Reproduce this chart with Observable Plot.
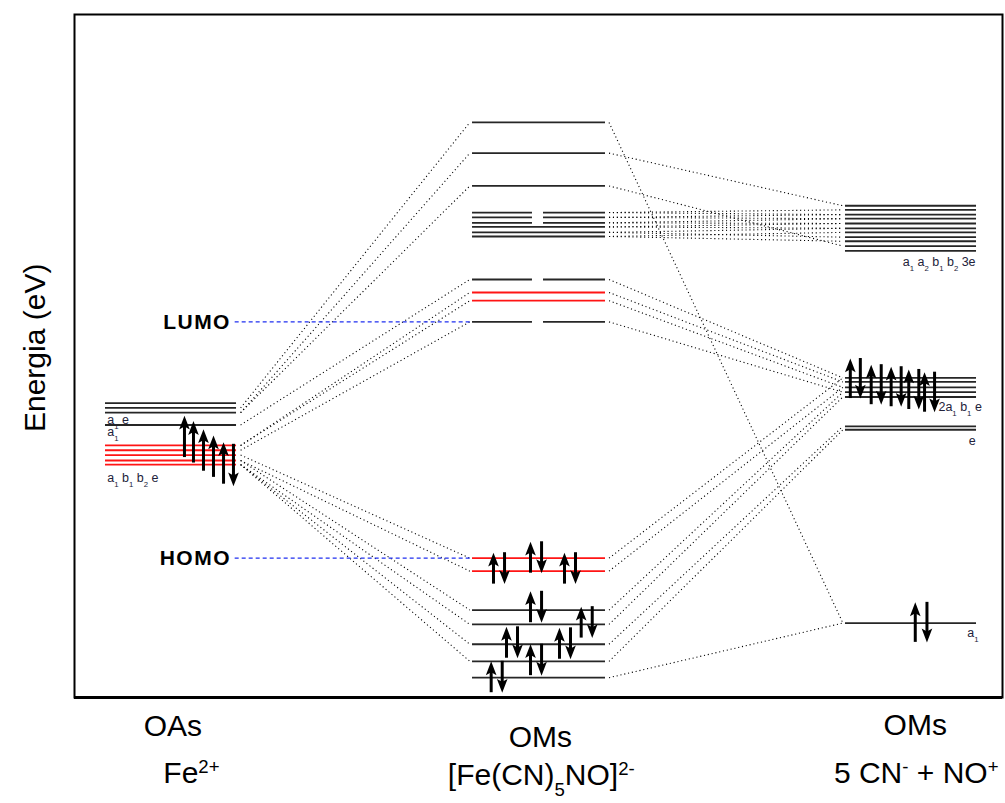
<!DOCTYPE html>
<html><head><meta charset="utf-8">
<script src="https://cdn.jsdelivr.net/npm/d3@7"></script>
<script src="https://cdn.jsdelivr.net/npm/@observablehq/plot@0.6"></script>
<style>body{margin:0;background:#fff;} svg{display:block;}</style>
</head><body><div id="chart"></div>
<script>
// ---------------- data (energies in arbitrary units, 0..100) ----------------
const feLevels   = [43.1, 42.4, 41.7, 39.9, 36.9, 36.2, 35.5, 34.7, 34.1];
const feMetalD   = [false, false, false, false, true, true, true, true, true];
const complexLevels     = [84.2, 79.7, 74.9, 71.0, 70.3, 69.5, 68.9, 68.1, 67.5, 61.2, 59.3, 58.1, 55.0, 20.4, 18.5, 12.8, 10.7, 7.8, 5.3, 2.9];
const complexDegenerate = [0,0,0,1,1,1,0,0,0,1,0,0,1,0,0,0,0,0,0,0];
const complexMetalD     = [0,0,0,0,0,0,0,0,0,0,1,1,0,1,1,0,0,0,0,0];
const ligandLevels = [72.0, 71.4, 70.7, 70.1, 69.4, 68.7, 68.1, 67.4, 66.8, 66.1, 65.4, 46.8, 46.2, 45.4, 44.7, 44.0, 39.7, 39.2, 10.9];
const lumo = 55.0, homo = 20.4;

// correlation lines [from energy, to energy]
const feToComplex = [[42.4,84.2],[41.7,79.7],[41.7,74.9],[39.9,61.2],[36.9,59.3],[36.9,58.1],[36.2,55.0],[35.5,20.4],[34.7,18.5],[34.7,12.8],[34.1,10.7],[34.1,7.8],[34.1,5.3]];
const complexToLigand = [[84.2,10.9],[79.7,72.0],[74.9,66.1],[71.0,71.4],[70.3,70.7],[69.5,70.1],[68.9,69.4],[68.1,68.7],[67.5,68.1],[71.0,70.7],[70.3,70.1],[69.5,69.4],[68.9,68.7],[68.1,67.4],[67.5,66.8],[61.2,46.8],[59.3,46.2],[58.1,45.4],[55.0,44.7],[20.4,46.8],[18.5,45.4],[12.8,44.7],[10.7,44.0],[7.8,39.7],[5.3,39.2],[2.9,10.9]];

// electrons (Fe2+ d6 high spin: individual spins; others: pairs)
const feSpinSlot = [11.85, 12.82, 13.9, 14.98, 16.06, 17.13];
const feSpinE    = [38.2, 37.4, 36.2, 35.3, 34.3, 34.0];
const feSpinDir  = [1, 1, 1, 1, 1, -1];
const complexPairSlot = [45.15, 49.14, 52.8, 49.14, 54.6, 46.55, 52.26, 49.14, 44.9];
const complexPairE    = [18.9, 20.5, 18.9, 13.25, 11.0, 8.05, 7.9, 5.5, 3.0];
const ligandPairSlot = [83.6, 85.85, 88.0, 89.9, 91.6, 90.6];
const ligandPairE    = [46.7, 45.8, 45.5, 45.1, 44.7, 11.0];

// labels
const feLabels = ["a_{1} e", "a_{1}", "a_{1} b_{1} b_{2} e"];
const feLabelE = [40.7, 38.8, 32.2];
const ligandLabelsRight = ["a_{1} a_{2} b_{1} b_{2} 3e", "e"];
const ligandLabelsRightE = [63.7, 37.6];
const ligandLabelsLeft = ["2a_{1} b_{1} e", "a_{1}"];
const ligandLabelsLeftE = [42.6, 9.4];
const columnTitles = ["OAs", "OMs", "OMs"];
const columnSpecies = ["Fe^{2+}", "[Fe(CN)_{5}NO]^{2-}", "5 CN^{-} + NO^{+}"];
const yTitle = "Energia (eV)";

// ---------------- layout ----------------
const X = {fe: [3.34, 17.46], cx: [42.89, 57.22], gap: [49.35, 50.54], lig: [83.08, 97.2]};
const linkX = {feR: 17.9, cxL: 42.6, cxR: 57.6, ligL: 82.8};
const ligandLabelsLeftX = [93.1, 96.2];
const titlePos = [{x: 10.6, y: -4.3}, {x: 50.2, y: -5.9}, {x: 90.6, y: -4.1}];
const speciesPos = [{x: 12.6, y: -11.1}, {x: 50.3, y: -11.4}, {x: 90.7, y: -11.1}];

const segs = [];
feLevels.forEach((e, i) => segs.push({x1: X.fe[0], x2: X.fe[1], y: e, red: feMetalD[i]}));
complexLevels.forEach((e, i) => {
  if (complexDegenerate[i]) {
    segs.push({x1: X.cx[0], x2: X.gap[0], y: e, red: !!complexMetalD[i]});
    segs.push({x1: X.gap[1], x2: X.cx[1], y: e, red: !!complexMetalD[i]});
  } else segs.push({x1: X.cx[0], x2: X.cx[1], y: e, red: !!complexMetalD[i]});
});
ligandLevels.forEach(e => segs.push({x1: X.lig[0], x2: X.lig[1], y: e, red: false}));

const links = [
  ...feToComplex.map(([a, b]) => ({x1: linkX.feR, y1: a, x2: linkX.cxL, y2: b})),
  ...complexToLigand.map(([a, b]) => ({x1: linkX.cxR, y1: a, x2: linkX.ligL, y2: b}))
];

const spins = [];
function addSpin(x, e, dir, half) {
  spins.push({x, tail: e - dir * half, tip: e + dir * half, shaftEnd: e + dir * (half - 1.0), rot: dir > 0 ? 0 : 180});
}
feSpinSlot.forEach((x, i) => addSpin(x, feSpinE[i], feSpinDir[i], 3.07));
complexPairSlot.forEach((x, i) => { addSpin(x, complexPairE[i], 1, 2.3); addSpin(x + 1.19, complexPairE[i], -1, 2.3); });
ligandPairSlot.forEach((x, i) => { const h = 2.93; addSpin(x, ligandPairE[i], 1, h); addSpin(x + (i === 5 ? 1.26 : 1.08), ligandPairE[i], -1, h); });

const arrowHead = {draw(ctx, size) {
  const s = Math.sqrt(size);
  ctx.moveTo(0, 0); ctx.lineTo(s * 0.5, s * 1.3); ctx.lineTo(0, s * 1.02); ctx.lineTo(-s * 0.5, s * 1.3); ctx.closePath();
}};

const labelColor = "#22223a";
const plot = Plot.plot({
  width: 1005, height: 803,
  marginTop: 14, marginLeft: 74, marginRight: 3, marginBottom: 106,
  x: {domain: [0, 100], axis: null},
  y: {domain: [0, 100], axis: null},
  style: {fontFamily: "'Liberation Sans', Arial, sans-serif", background: "white"},
  marks: [
    Plot.frame({stroke: "black", strokeWidth: 2}),
    Plot.ruleY([0], {stroke: "black", strokeWidth: 3}),
    Plot.link(links, {x1: "x1", y1: "y1", x2: "x2", y2: "y2", stroke: "black", strokeWidth: 1.1, strokeDasharray: "1.1,2.8"}),
    Plot.link([lumo, homo], {x1: X.fe[1] - 0.2, x2: X.cx[0], y1: d => d, y2: d => d, stroke: "#1f2ff0", strokeWidth: 1.1, strokeDasharray: "4,3"}),
    Plot.ruleY(segs, {y: "y", x1: "x1", x2: "x2", stroke: d => d.red ? "#ff1414" : "#262626", strokeWidth: 1.8}),
    Plot.ruleX(spins, {x: "x", y1: "tail", y2: "shaftEnd", stroke: "black", strokeWidth: 3}),
    Plot.dot(spins, {x: "x", y: "tip", r: 6, symbol: arrowHead, rotate: "rot", fill: "black", stroke: null}),
    Plot.text(feLabels, {x: X.fe[0] + 0.2, y: (d, i) => feLabelE[i], text: d => d, textAnchor: "start", fontSize: 12.5, fill: labelColor}),
    Plot.text(ligandLabelsRight, {x: 97.1, y: (d, i) => ligandLabelsRightE[i], text: d => d, textAnchor: "end", fontSize: 12.5, fill: labelColor}),
    Plot.text(ligandLabelsLeft, {x: (d, i) => ligandLabelsLeftX[i], y: (d, i) => ligandLabelsLeftE[i], text: d => d, textAnchor: "start", fontSize: 12.5, fill: labelColor}),
    Plot.text(["LUMO", "HOMO"], {x: X.fe[1] - 0.6, y: d => d === "LUMO" ? lumo : homo, text: d => d, textAnchor: "end", fontSize: 21, fontWeight: "bold", fill: "black"}),
    Plot.text(columnTitles, {x: (d, i) => titlePos[i].x, y: (d, i) => titlePos[i].y, text: d => d, fontSize: 30, fill: "black"}),
    Plot.text(columnSpecies, {x: (d, i) => speciesPos[i].x, y: (d, i) => speciesPos[i].y, text: d => d, fontSize: 30, fill: "black"}),
    Plot.text([yTitle], {x: -4.2, y: 51.2, rotate: -90, text: d => d, fontSize: 30, fill: "black"})
  ]
});

document.getElementById("chart").appendChild(plot);
const ns = "http://www.w3.org/2000/svg";
d3.select(plot).selectAll("text").each(function() {
  const t = this;
  const s = t.textContent;
  if (s === "LUMO" || s === "HOMO") t.setAttribute("letter-spacing", "1.5");
  if (!/[_^]\{/.test(s)) return;
  t.textContent = "";
  const re = /([_^])\{([^}]*)\}/g; let last = 0, m;
  const add = (str, kind) => {
    const ts = document.createElementNS(ns, "tspan");
    ts.textContent = str;
    if (kind) { ts.setAttribute("baseline-shift", kind === "^" ? "super" : "sub"); ts.setAttribute("font-size", "62%"); }
    t.appendChild(ts);
  };
  while ((m = re.exec(s))) { if (m.index > last) add(s.slice(last, m.index)); add(m[2], m[1]); last = re.lastIndex; }
  if (last < s.length) add(s.slice(last));
});
</script></body></html>
